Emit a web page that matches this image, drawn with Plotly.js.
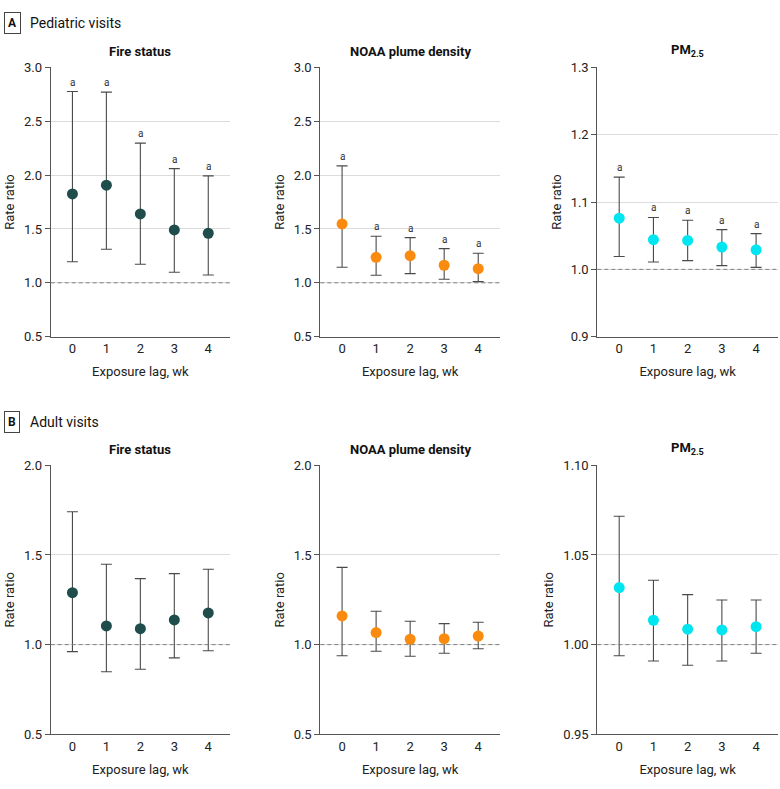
<!DOCTYPE html>
<html>
<head>
<meta charset="utf-8">
<script src="https://cdn.plot.ly/plotly-3.0.1.min.js"></script>
<style>html,body{margin:0;padding:0;background:#fff;}#chart{width:780px;height:789px;}</style>
</head>
<body>
<div id="chart"></div>
<script>
// ---------- data ----------
const lags = [0, 1, 2, 3, 4];

// A: Pediatric visits
const pedFireRR    = [1.825, 1.906, 1.639, 1.491, 1.460];
const pedFireLo    = [1.196, 1.311, 1.172, 1.098, 1.073];
const pedFireHi    = [2.775, 2.770, 2.296, 2.060, 1.992];
const pedFireSig   = [true, true, true, true, true];

const pedNoaaRR    = [1.546, 1.237, 1.252, 1.163, 1.131];
const pedNoaaLo    = [1.144, 1.070, 1.085, 1.033, 1.011];
const pedNoaaHi    = [2.085, 1.432, 1.419, 1.317, 1.274];
const pedNoaaSig   = [true, true, true, true, true];

const pedPmRR      = [1.076, 1.044, 1.043, 1.033, 1.029];
const pedPmLo      = [1.019, 1.011, 1.013, 1.0055, 1.003];
const pedPmHi      = [1.137, 1.077, 1.073, 1.059, 1.053];
const pedPmSig     = [true, true, true, true, true];

// B: Adult visits
const adFireRR     = [1.290, 1.104, 1.089, 1.138, 1.177];
const adFireLo     = [0.961, 0.849, 0.863, 0.926, 0.966];
const adFireHi     = [1.741, 1.448, 1.368, 1.396, 1.420];
const adFireSig    = [false, false, false, false, false];

const adNoaaRR     = [1.160, 1.067, 1.030, 1.033, 1.048];
const adNoaaLo     = [0.938, 0.963, 0.935, 0.952, 0.977];
const adNoaaHi     = [1.431, 1.186, 1.130, 1.117, 1.125];
const adNoaaSig    = [false, false, false, false, false];

const adPmRR       = [1.0318, 1.0136, 1.0086, 1.0082, 1.0100];
const adPmLo       = [0.9938, 0.9909, 0.9885, 0.9909, 0.9952];
const adPmHi       = [1.0716, 1.0359, 1.0279, 1.0249, 1.0249];
const adPmSig      = [false, false, false, false, false];

const panelTitles = ['Fire status', 'NOAA plume density', 'PM<sub>2.5</sub>'];
const sectionLabels = ['A', 'B'];
const sectionTitles = ['Pediatric visits', 'Adult visits'];
const xTitle = 'Exposure lag, wk';
const yTitle = 'Rate ratio';

// y ticks per panel
const yTicksPedFire = [0.5, 1.0, 1.5, 2.0, 2.5, 3.0];
const yTicksPedNoaa = [0.5, 1.0, 1.5, 2.0, 2.5, 3.0];
const yTicksPedPm   = [0.9, 1.0, 1.1, 1.2, 1.3];
const yTicksAdFire  = [0.5, 1.0, 1.5, 2.0];
const yTicksAdNoaa  = [0.5, 1.0, 1.5, 2.0];
const yTicksAdPm    = [0.95, 1.00, 1.05, 1.10];

// ---------- styling ----------
const FONT = 'Roboto, "Noto Sans", sans-serif';
const colTeal = '#1f4d4b', colOrange = '#fb8b0f', colCyan = '#00e6f0';
const W = 780, H = 789;

const panels = [
  {rr: pedFireRR, lo: pedFireLo, hi: pedFireHi, sig: pedFireSig, col: colTeal,   ticks: yTicksPedFire, dec: 1, title: panelTitles[0]},
  {rr: pedNoaaRR, lo: pedNoaaLo, hi: pedNoaaHi, sig: pedNoaaSig, col: colOrange, ticks: yTicksPedNoaa, dec: 1, title: panelTitles[1]},
  {rr: pedPmRR,   lo: pedPmLo,   hi: pedPmHi,   sig: pedPmSig,   col: colCyan,   ticks: yTicksPedPm,   dec: 1, title: panelTitles[2]},
  {rr: adFireRR,  lo: adFireLo,  hi: adFireHi,  sig: adFireSig,  col: colTeal,   ticks: yTicksAdFire,  dec: 1, title: panelTitles[0]},
  {rr: adNoaaRR,  lo: adNoaaLo,  hi: adNoaaHi,  sig: adNoaaSig,  col: colOrange, ticks: yTicksAdNoaa,  dec: 1, title: panelTitles[1]},
  {rr: adPmRR,    lo: adPmLo,    hi: adPmHi,    sig: adPmSig,    col: colCyan,   ticks: yTicksAdPm,    dec: 2, title: panelTitles[2]},
];

// pixel boxes of the plot areas
const colX = [[50.7, 230], [320.3, 500], [597.3, 778]];
const rowY = [[67.3, 336.7], [465.3, 734.3]];

const traces = [];
const layout = {
  width: W, height: H,
  margin: {l: 0, r: 0, t: 0, b: 0},
  paper_bgcolor: '#fff', plot_bgcolor: '#fff',
  showlegend: false,
  font: {family: FONT, color: '#222', size: 12},
  annotations: [], shapes: []
};

panels.forEach((p, i) => {
  const r = Math.floor(i / 3), c = i % 3;
  const n = i + 1;
  const sfx = n === 1 ? '' : String(n);
  const xa = 'xaxis' + sfx, ya = 'yaxis' + sfx;
  const xr = 'x' + sfx, yr = 'y' + sfx;
  const ymin = p.ticks[0], ymax = p.ticks[p.ticks.length - 1];

  traces.push({
    type: 'scatter', mode: 'markers', x: lags, y: p.rr, xaxis: xr, yaxis: yr,
    marker: {color: p.col, size: 11, line: {width: 0}},
    error_y: {type: 'data', symmetric: false,
      array: p.hi.map((v, k) => v - p.rr[k]),
      arrayminus: p.rr.map((v, k) => v - p.lo[k]),
      color: '#4a4a4a', thickness: 1.1, width: 5.5},
    hoverinfo: 'skip'
  });

  layout[xa] = {
    domain: [colX[c][0] / W, colX[c][1] / W],
    range: [-0.64, 4.64], anchor: yr,
    tickvals: lags, ticktext: lags.map(String),
    ticks: '', showgrid: false, zeroline: false,
    showline: true, linecolor: '#555', linewidth: 1,
    tickfont: {size: 13, color: '#222'},
    title: {text: xTitle, font: {size: 13, color: '#222'}, standoff: 11},
    fixedrange: true
  };
  layout[ya] = {
    domain: [1 - rowY[r][1] / H, 1 - rowY[r][0] / H],
    range: [ymin, ymax], anchor: xr,
    tickvals: p.ticks, ticktext: p.ticks.map(v => v.toFixed(p.dec)),
    ticks: 'outside', ticklen: 5, tickcolor: '#555', tickwidth: 1,
    showgrid: true, gridcolor: '#dcdcdc', gridwidth: 1,
    zeroline: false, showline: true, linecolor: '#555', linewidth: 1,
    tickfont: {size: 13, color: '#222'},
    title: {text: yTitle, font: {size: 13, color: '#222'}, standoff: 6},
    fixedrange: true
  };

  // reference line at RR = 1
  layout.shapes.push({type: 'line', xref: xr + ' domain', yref: yr, x0: 0, x1: 1, y0: 1, y1: 1,
    line: {color: '#808080', width: 1, dash: '4px,3px'}, layer: 'above'});

  // panel title
  layout.annotations.push({
    text: '<b>' + p.title + '</b>', xref: xr + ' domain', yref: yr + ' domain',
    x: 0.5, y: 1, yanchor: 'bottom', xanchor: 'center', yshift: 6, showarrow: false,
    font: {size: 13, color: '#111'}
  });

  // significance markers
  p.sig.forEach((s, k) => {
    if (!s) return;
    layout.annotations.push({
      text: 'a', x: lags[k], y: p.hi[k], xref: xr, yref: yr,
      yanchor: 'bottom', xanchor: 'center', yshift: 2, showarrow: false,
      font: {size: 10, color: '#333'}
    });
  });
});

// section labels
const secY = [23, 422];
sectionLabels.forEach((lab, r) => {
  layout.annotations.push({
    text: '<b>' + lab + '</b>', xref: 'paper', yref: 'paper',
    x: 12.5 / W, y: 1 - secY[r] / H, xanchor: 'center', yanchor: 'middle', showarrow: false,
    font: {size: 12, color: '#111'}, bordercolor: '#444', borderwidth: 1, borderpad: 3
  });
  layout.annotations.push({
    text: sectionTitles[r], xref: 'paper', yref: 'paper',
    x: 28 / W, y: 1 - secY[r] / H, xanchor: 'left', yanchor: 'middle', showarrow: false,
    font: {size: 14, color: '#111'}
  });
});

Plotly.newPlot('chart', traces, layout, {displayModeBar: false, staticPlot: true});
</script>
</body>
</html>
